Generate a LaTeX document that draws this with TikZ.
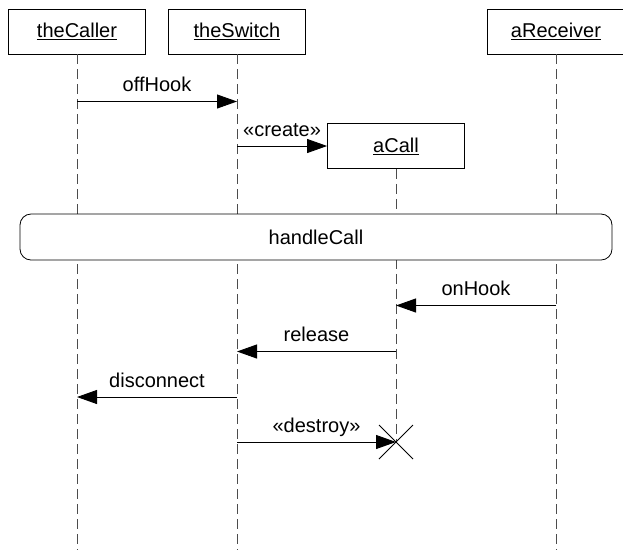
\documentclass[tikz,border=0pt]{standalone}
\usepackage{fontspec}
\setmainfont{Liberation Sans}
\usetikzlibrary{arrows.meta}
\newcommand{\seqfont}{\fontsize{20}{24}\selectfont}
\begin{document}
\begin{tikzpicture}[x=1pt, y=-1pt,
        obj/.style={rectangle, draw, line width=0.8pt, fill=white, minimum width=137pt, minimum height=45pt, font=\seqfont},
        frag/.style={rectangle, draw, line width=0.8pt, fill=white, rounded corners=11pt, minimum width=592pt, minimum height=46pt, font=\seqfont},
        life/.style={draw=black!70, line width=0.8pt, dash pattern=on 10pt off 5pt},
        msg/.style={->, >={Triangle[length=20pt, width=14pt]}, line width=0.9pt},
        lbl/.style={midway, anchor=base, yshift=10pt, inner sep=0pt, font=\seqfont}
    ]
    \useasboundingbox (0,0) rectangle (623,550);
    % objects
    \node[obj] (caller) at (77,31.5) {\underline{theCaller}};
    \node[obj] (switch) at (237,31.5) {\underline{theSwitch}};
    \node[obj] (recv) at (556,31.5) {\underline{aReceiver}};
    \node[obj] (call) at (396,146) {\underline{aCall}};
    \coordinate (kill) at (call |- 0,442);
    % lifelines
    \draw[life] (caller.south) -- (caller |- 0,550);
    \draw[life] (switch.south) -- (switch |- 0,550);
    \draw[life] (recv.south) -- (recv |- 0,550);
    \draw[life] (call.south) -- (kill);
    % interaction
    \node[frag] (handle) at (316,237) {handleCall};
    % messages
    \draw[msg] (caller |- 0,101.5) -- node[lbl] {offHook} (switch |- 0,101.5);
    \draw[msg] (switch |- call) -- node[lbl] {«create»} (call.west);
    \draw[msg] (recv |- 0,305.5) -- node[lbl] {onHook} (call |- 0,305.5);
    \draw[msg] (call |- 0,351.5) -- node[lbl] {release} (switch |- 0,351.5);
    \draw[msg] (switch |- 0,397) -- node[lbl] {disconnect} (caller |- 0,397);
    \draw[msg] (switch |- kill) -- node[lbl] {«destroy»} (kill);
    % destruction mark
    \draw[line width=0.8pt] (kill) +(-17,-17) -- +(17,17);
    \draw[line width=0.8pt] (kill) +(-17,17) -- +(17,-17);
\end{tikzpicture}
\end{document}
